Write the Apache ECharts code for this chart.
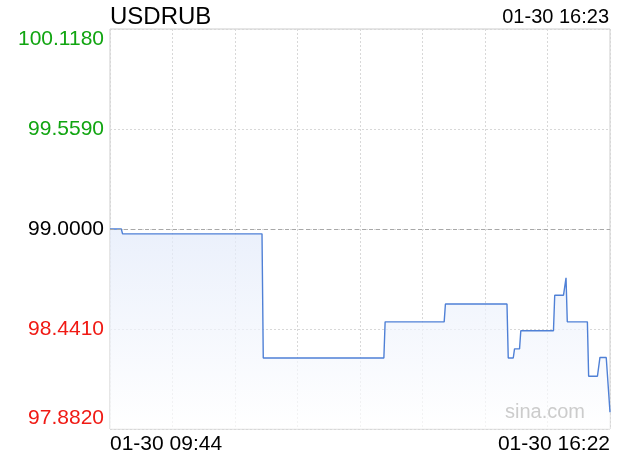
<!DOCTYPE html>
<html>
<head>
<meta charset="utf-8">
<script src="https://cdn.jsdelivr.net/npm/echarts@6/dist/echarts.min.js"></script>
<style>
html,body{margin:0;padding:0;background:#fff;}
#chart{width:620px;height:460px;}
</style>
</head>
<body>
<div id="chart"></div>
<script>
// ---- data ----
var symbol = 'USDRUB';
var dateLabel = '01-30';
var updateTime = '01-30 16:23';
var startTime = '09:44';
var endTime = '16:22';
var prevClose = 99.0;
var yTicks = [97.882, 98.441, 99.000, 99.559, 100.118];
var times = ['09:44','09:53','09:54','11:45','11:46','13:22','13:23','14:10','14:11','15:00','15:01','15:05','15:06','15:10','15:11','15:37','15:38','15:45','15:47','15:48','16:04','16:05','16:12','16:14','16:19','16:22'];
var prices = [99.000,99.000,98.973,98.973,98.279,98.279,98.481,98.481,98.581,98.581,98.279,98.279,98.330,98.330,98.431,98.431,98.630,98.630,98.727,98.481,98.481,98.177,98.177,98.282,98.282,97.976];

function toMin(t){var p=t.split(':');return (+p[0])*60+(+p[1]);}
var t0 = toMin(startTime), t1 = toMin(endTime);
var seriesData = times.map(function(t,i){return [toMin(t)-t0, prices[i]];});
var span = t1 - t0;

var chart = echarts.init(document.getElementById('chart'));
var font = 'Liberation Sans, Arial, Helvetica, sans-serif';
chart.setOption({
  animation:false,
  backgroundColor:'#fff',
  grid:{left:110,right:10,top:29,height:400,show:true,borderColor:'#cccccc',borderWidth:1,backgroundColor:'transparent'},
  graphic:[
    {type:'text',left:110,top:5,style:{text:symbol,font:'24px '+font,fill:'#000'}},
    {type:'text',right:11,top:7,style:{text:updateTime,font:'20px '+font,fill:'#000'}},
    {type:'text',left:505,top:402,z:100,style:{text:'sina.com',font:'20px '+font,fill:'#cccccc'}}
  ],
  xAxis:{
    type:'value',min:0,max:span,interval:span/8,
    axisLine:{show:false},axisTick:{show:false},
    splitLine:{show:true,lineStyle:{color:'#d8d8d8',type:[2,2],width:1}},
    axisLabel:{
      margin:5,fontSize:21,fontFamily:font,color:'#000',
      showMinLabel:true,showMaxLabel:true,
      alignMinLabel:'left',alignMaxLabel:'right',
      formatter:function(v){
        if(Math.abs(v)<1e-6) return dateLabel+' '+startTime;
        if(Math.abs(v-span)<1e-6) return dateLabel+' '+endTime;
        return '';
      }
    }
  },
  yAxis:{
    type:'value',min:yTicks[0],max:yTicks[yTicks.length-1],interval:yTicks[1]-yTicks[0],
    axisLine:{show:false},axisTick:{show:false},
    splitLine:{show:true,lineStyle:{color:'#d8d8d8',type:[2,2],width:1}},
    axisLabel:{
      margin:6,fontSize:21,fontFamily:font,
      showMinLabel:true,showMaxLabel:true,
      verticalAlignMinLabel:'bottom',verticalAlignMaxLabel:'top',
      formatter:function(v){return v.toFixed(4);},
      color:function(v){
        var n=parseFloat(v);
        if(Math.abs(n-prevClose)<1e-4) return '#000000';
        return n>prevClose?'#11a511':'#f01a14';
      }
    }
  },
  series:[{
    type:'line',
    data:seriesData,
    showSymbol:false,
    symbol:'none',
    lineStyle:{color:'#4f80d6',width:1.4},
    areaStyle:{origin:'start',color:new echarts.graphic.LinearGradient(0,0,0,1,[{offset:0,color:'#e2eafa'},{offset:1,color:'#ffffff'}])},
    markLine:{
      silent:true,symbol:'none',label:{show:false},
      lineStyle:{color:'#a8a8a8',type:[4,3],width:1},
      data:[{yAxis:prevClose}]
    }
  }]
});
</script>
</body>
</html>
